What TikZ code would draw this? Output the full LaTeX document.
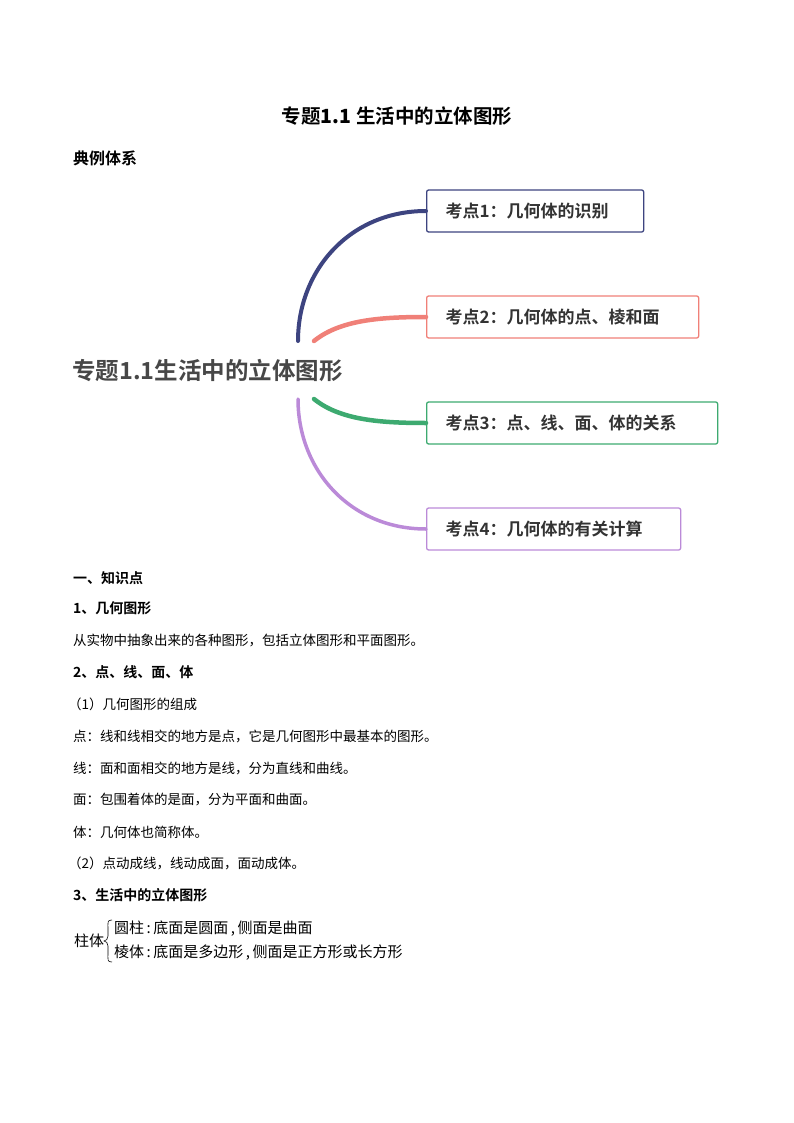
\documentclass[tikz,border=0pt]{standalone}
\usepackage{fontspec}
\setmainfont{Liberation Serif}
\newfontfamily\cjk{Noto Sans CJK SC}
\newfontfamily\cjkb{Noto Sans CJK SC Bold}
\begin{document}
\begin{tikzpicture}[x=1pt,y=-1pt,
 kbox/.style={draw=#1,line width=1.3pt,rounded corners=2pt,minimum height=42pt,anchor=west,inner xsep=19pt,align=left,font=\cjkb\fontsize{17}{19}\selectfont,text=black!80},
 br/.style={line width=#1,line cap=round},
 body/.style={anchor=west,font=\cjk\fontsize{13.5}{15}\selectfont,inner sep=0pt},
 head/.style={anchor=west,font=\cjkb\fontsize{14}{16}\selectfont,inner sep=0pt}]
\definecolor{cb}{HTML}{3D4480}\definecolor{cs}{HTML}{F08078}\definecolor{cg}{HTML}{3DAA70}\definecolor{cp}{HTML}{BB8AD8}
\useasboundingbox (0,0) rectangle (794,1123);
\node[font=\cjkb\fontsize{19.5}{21}\selectfont] (title) at (397,116) {专题{\bfseries 1.1} 生活中的立体图形};
\node[head,font=\cjkb\fontsize{16}{18}\selectfont] (dl) at (73,158) {典例体系};
\node[anchor=west,inner sep=0pt,font=\cjkb\fontsize{23.5}{25}\selectfont,text=black!72] (c) at (72,371) {专题1.1生活中的立体图形};
\node[kbox=cb,text width=179pt] (k1) at (426,211) {考点1：几何体的识别};
\node[kbox=cs,text width=234pt] (k2) at (426,317) {考点2：几何体的点、棱和面};
\node[kbox=cg,text width=253pt] (k3) at (426,423) {考点3：点、线、面、体的关系};
\node[kbox=cp,text width=216pt] (k4) at (426,529) {考点4：几何体的有关计算};
\coordinate (a1) at (298,341);\coordinate (a2) at (314,341);\coordinate (a3) at (314,399);\coordinate (a4) at (298,399);
\draw[cb,br=4pt] (a1) .. controls (298,270) and (350,211) .. (k1.west);
\draw[cs,br=4.5pt] (a2) .. controls (340,320) and (380,317) .. (k2.west);
\draw[cg,br=4.5pt] (a3) .. controls (340,420) and (380,423) .. (k3.west);
\draw[cp,br=3.5pt] (a4) .. controls (298,470) and (350,529) .. (k4.west);
\node[head] (s1) at (73,578) {一、知识点};
\node[head] (s2) at (73,608) {1、几何图形};
\node[body] (t1) at (73,640) {从实物中抽象出来的各种图形，包括立体图形和平面图形。};
\node[head] (s3) at (73,672) {2、点、线、面、体};
\node[body] (t2) at (68,704) {（1）几何图形的组成};
\node[body] (t3) at (73,736) {点：线和线相交的地方是点，它是几何图形中最基本的图形。};
\node[body] (t4) at (73,768) {线：面和面相交的地方是线，分为直线和曲线。};
\node[body] (t5) at (73,800) {面：包围着体的是面，分为平面和曲面。};
\node[body] (t6) at (73,832) {体：几何体也简称体。};
\node[body] (t7) at (68,863) {（2）点动成线，线动成面，面动成体。};
\node[head] (s4) at (73,895) {3、生活中的立体图形};
\node[body,font=\cjk\fontsize{15}{16}\selectfont] (zt) at (74,941) {柱体};
\draw[line width=0.6pt] (112,920) .. controls (107,920) and (108,922) .. (108,930) -- (108,936) .. controls (108,939) and (106,941) .. (104,941) .. controls (106,941) and (108,943) .. (108,946) -- (108,952) .. controls (108,960) and (107,962) .. (112,962);
\node[body,font=\cjk\fontsize{15}{16}\selectfont] (y1) at (114,929) {圆柱\,:\,底面是圆面\,,\,侧面是曲面};
\node[body,font=\cjk\fontsize{15}{16}\selectfont] (y2) at (114,953) {棱体\,:\,底面是多边形\,,\,侧面是正方形或长方形};
\end{tikzpicture}
\end{document}
